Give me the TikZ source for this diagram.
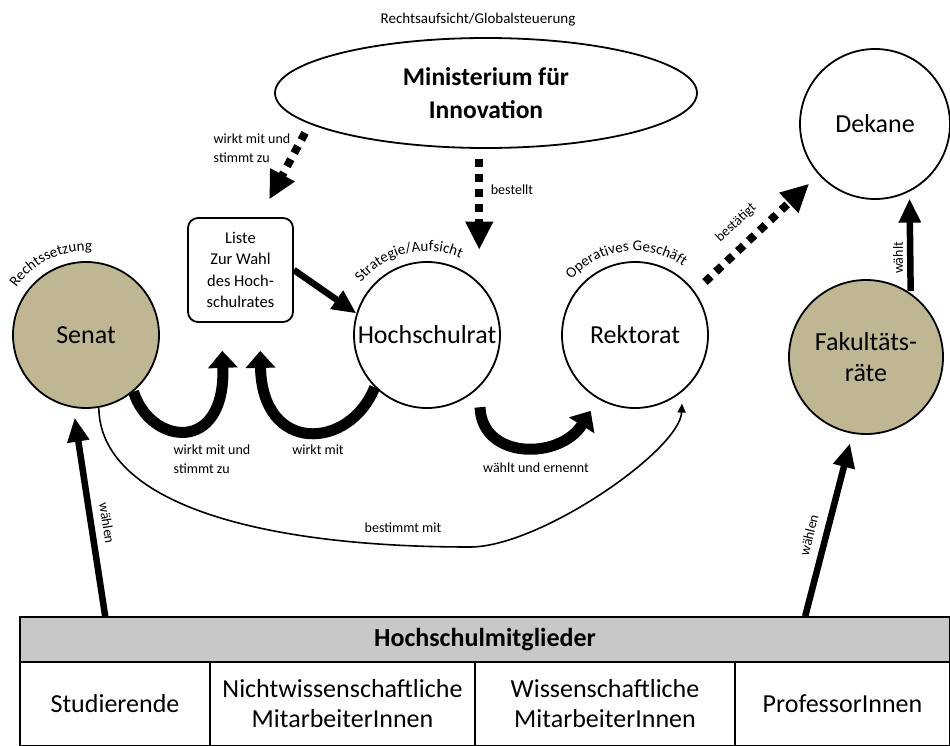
\documentclass[tikz,border=0pt]{standalone}
\usepackage{fontspec}
\setmainfont{Carlito}
\usepackage{xcolor}
\usepackage{tikz}
\usetikzlibrary{shapes.geometric}
\usetikzlibrary{arrows.meta}
\usetikzlibrary{decorations.text}
\usetikzlibrary{positioning}

\definecolor{gremium}{RGB}{191,182,148}
\definecolor{kopfgrau}{RGB}{200,200,200}
\newcommand{\schrift}[2]{\fontsize{#1}{#2}\selectfont}

\begin{document}
\begin{tikzpicture}[x=1pt, y=-1pt,
    organ/.style={circle, draw, line width=1.8pt, minimum size=146pt, inner sep=0pt, align=center, font=\schrift{26}{31}},
    kasten/.style={rectangle, rounded corners=10pt, draw, line width=1.8pt, minimum width=105pt, minimum height=104pt, inner sep=0pt, align=center, font=\schrift{16.5}{21.5}},
    zelle/.style={rectangle, draw, line width=1.6pt, minimum height=84pt, inner sep=0pt, align=center, font=\schrift{26}{30}},
    klein/.style={font=\schrift{14}{18.5}, align=left, inner sep=1pt},
    rund/.style={decorate, decoration={text along path, text align=center, text={#1}}},
  ]
\tikzset{
  dick/.style={line width=6.5pt, -{Triangle[length=24pt, width=21pt]}},
  bogen/.style={line width=11pt, -{Triangle[length=17pt, width=29pt]}},
  punkt/.style={line width=8pt, dash pattern=on 8pt off 7pt, -{Triangle[length=28pt, width=26pt]}},
  duenn/.style={line width=1.6pt, -{Triangle[length=9pt, width=8pt]}},
}
  \useasboundingbox (0,0) rectangle (950,746);

  \node[ellipse, draw, line width=1.8pt, minimum width=422pt, minimum height=110pt, inner sep=0pt, align=center, font=\bfseries\schrift{25.5}{33}] (mifi) at (486,93) {Ministerium für\\Innovation};
  \node[kasten] (liste) at (240.5,270) {Liste\\Zur Wahl\\des Hoch-\\schulrates};
  \node[organ, fill=gremium] (senat) at (86,335) {Senat};
  \node[organ] (hsr) at (427,335) {Hochschulrat};
  \node[organ] (rektorat) at (635,335) {Rektorat};
  \node[organ, minimum size=150pt] (dekane) at (875,124) {Dekane};
  \node[organ, fill=gremium, minimum size=154pt] (fakr) at (866,357) {Fakultäts-\\räte};

  % Hochschulmitglieder
  \node[zelle, fill=kopfgrau, minimum width=930pt, minimum height=45pt, font=\bfseries\schrift{26}{30}] (mitglieder) at (485,639.5) {Hochschulmitglieder};
  \node[zelle, minimum width=190pt] (stud) at (115,704) {Studierende};
  \node[zelle, minimum width=265pt] (ntw) at (342.5,704) {Nichtwissenschaftliche\\MitarbeiterInnen};
  \node[zelle, minimum width=260pt] (wiss) at (605,704) {Wissenschaftliche\\MitarbeiterInnen};
  \node[zelle, minimum width=215pt] (prof) at (842.5,704) {ProfessorInnen};

  \coordinate (fuss-s) at ([xshift=86pt]mitglieder.north west);
  \coordinate (fuss-p) at ([xshift=786pt]mitglieder.north west);
  \coordinate (tief) at (470,547);

  % Beschriftungen
  \node[klein, font=\schrift{15}{18}] (l-aufsicht) at (478,20) {Rechtsaufsicht/Globalsteuerung};
  \node[klein] (l-wirkt1) at (252,148) {wirkt mit und\\stimmt zu};
  \node[klein] (l-bestellt) at (512,190) {bestellt};
  \node[klein, rotate=43] (l-bestaetigt) at (736,223) {bestätigt};
  \node[klein, rotate=90] (l-waehlt) at (898,258) {wählt};
  \node[klein] (l-wirkt2) at (212,459) {wirkt mit und\\stimmt zu};
  \node[klein] (l-wirkt3) at (318,450) {wirkt mit};
  \node[klein] (l-ernennt) at (536,468) {wählt und ernennt};
  \node[klein] (l-bestimmt) at (403,528) {bestimmt mit};
  \node[klein, rotate=-81] (l-waehlen1) at (107,523) {wählen};
  \node[klein, rotate=76] (l-waehlen2) at (809,535) {wählen};

  \path[rund={|\schrift{15}{15}|Rechtssetzung}] ([shift={(-176:84)}]senat.center) arc[start angle=-176, end angle=-56, radius=84];
  \path[rund={|\schrift{15}{15}|Strategie/Aufsicht}] ([shift={(-164:84)}]hsr.center) arc[start angle=-164, end angle=-44, radius=84];
  \path[rund={|\schrift{15}{15}|Operatives Geschäft}] ([shift={(-157:84)}]rektorat.center) arc[start angle=-157, end angle=-37, radius=84];

  % Pfeile
  \draw[punkt, shorten <=10pt, shorten >=20pt] (mifi.190) -- (liste.70);
  \draw[punkt, shorten <=10pt, shorten >=33pt] (mifi.south -| hsr.45) -- (hsr.45);
  \draw[punkt, shorten <=14pt, shorten >=13pt] (rektorat.36) -- (dekane.222);

  \draw[dick] (liste.east) -- (hsr.163);
  \draw[dick, shorten >=10pt] (fuss-s) -- (senat.260);
  \draw[dick, shorten >=10pt] (fuss-p) -- (fakr.260);
  \draw[dick, shorten <=2pt, shorten >=7pt] (fakr.55) -- (dekane.-63);

  \draw[bogen, shorten >=28pt] (senat.-50) .. controls (150,445) and (226,455) .. (liste.250);
  \draw[bogen, shorten >=28pt] (hsr.225) .. controls (350,450) and (262,455) .. (liste.290);
  \draw[bogen, shorten <=20pt, shorten >=14pt] (hsr.-45) .. controls (482,460) and (560,460) .. (rektorat.240);

  \draw[duenn, shorten >=12pt] (senat.-80) .. controls (100,500) and (250,547) .. (tief) .. controls (540,547) and (680,450) .. (rektorat.-50);

\end{tikzpicture}
\end{document}
